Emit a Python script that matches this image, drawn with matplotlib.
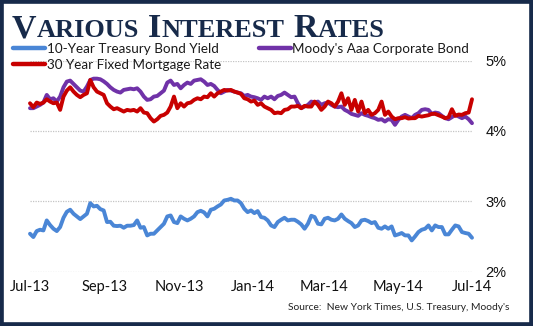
import matplotlib
matplotlib.use("Agg")
import matplotlib.pyplot as plt
import matplotlib.dates as mdates
from matplotlib.patches import Rectangle
from matplotlib.ticker import FuncFormatter
import pandas as pd

# Rate readings at evenly spaced dates, Jul 2013 - Jul 2014 (percent)
treasury_10y = [
    2.537, 2.490, 2.575, 2.594, 2.584, 2.726, 2.660, 2.608, 2.575, 2.632,
    2.764, 2.849, 2.878, 2.821, 2.783, 2.745, 2.783, 2.821, 2.972, 2.925,
    2.934, 2.887, 2.868, 2.703, 2.707, 2.651, 2.646, 2.651, 2.622, 2.651,
    2.651, 2.660, 2.726, 2.622, 2.632, 2.513, 2.537, 2.537, 2.584, 2.632,
    2.679, 2.783, 2.797, 2.703, 2.688, 2.783, 2.750, 2.726, 2.750, 2.783,
    2.844, 2.863, 2.840, 2.783, 2.878, 2.892, 2.925, 2.953, 3.010, 3.019,
    3.034, 3.010, 3.010, 2.972, 2.892, 2.844, 2.868, 2.830, 2.859, 2.774,
    2.764, 2.726, 2.655, 2.632, 2.703, 2.736, 2.764, 2.726, 2.736, 2.736,
    2.707, 2.670, 2.608, 2.679, 2.792, 2.774, 2.679, 2.670, 2.750, 2.764,
    2.736, 2.726, 2.750, 2.811, 2.750, 2.717, 2.688, 2.632, 2.655, 2.726,
    2.736, 2.717, 2.688, 2.703, 2.622, 2.608, 2.641, 2.608, 2.641, 2.513,
    2.528, 2.547, 2.513, 2.513, 2.442, 2.499, 2.561, 2.594, 2.608, 2.655,
    2.584, 2.655, 2.632, 2.632, 2.528, 2.528, 2.594, 2.655, 2.641, 2.561,
    2.547, 2.537, 2.480,
]

moodys_aaa = [
    4.322, 4.322, 4.345, 4.369, 4.402, 4.511, 4.449, 4.463, 4.416, 4.487,
    4.619, 4.700, 4.714, 4.667, 4.619, 4.572, 4.558, 4.629, 4.723, 4.742,
    4.742, 4.733, 4.704, 4.667, 4.619, 4.582, 4.558, 4.544, 4.582, 4.591,
    4.600, 4.591, 4.605, 4.558, 4.487, 4.440, 4.449, 4.487, 4.496, 4.534,
    4.572, 4.686, 4.714, 4.652, 4.667, 4.605, 4.652, 4.686, 4.667, 4.714,
    4.723, 4.733, 4.700, 4.652, 4.667, 4.638, 4.582, 4.534, 4.558, 4.582,
    4.572, 4.558, 4.544, 4.534, 4.496, 4.511, 4.487, 4.478, 4.463, 4.440,
    4.487, 4.463, 4.487, 4.449, 4.496, 4.511, 4.544, 4.511, 4.478, 4.487,
    4.392, 4.322, 4.345, 4.369, 4.416, 4.402, 4.416, 4.369, 4.392, 4.402,
    4.369, 4.345, 4.336, 4.345, 4.298, 4.274, 4.241, 4.227, 4.213, 4.251,
    4.227, 4.213, 4.194, 4.180, 4.156, 4.165, 4.132, 4.165, 4.156, 4.085,
    4.156, 4.203, 4.227, 4.203, 4.180, 4.227, 4.251, 4.298, 4.307, 4.298,
    4.241, 4.260, 4.251, 4.213, 4.180, 4.165, 4.194, 4.227, 4.203, 4.180,
    4.203, 4.165, 4.109,
]

mortgage_30y = [
    4.392, 4.336, 4.402, 4.383, 4.402, 4.449, 4.416, 4.392, 4.402, 4.298,
    4.487, 4.572, 4.619, 4.558, 4.511, 4.478, 4.511, 4.534, 4.723, 4.619,
    4.558, 4.534, 4.511, 4.392, 4.345, 4.307, 4.322, 4.298, 4.274, 4.298,
    4.288, 4.298, 4.274, 4.322, 4.260, 4.251, 4.180, 4.132, 4.165, 4.213,
    4.227, 4.260, 4.345, 4.487, 4.322, 4.392, 4.345, 4.392, 4.402, 4.440,
    4.463, 4.449, 4.487, 4.478, 4.534, 4.487, 4.534, 4.558, 4.582, 4.572,
    4.582, 4.558, 4.544, 4.525, 4.463, 4.449, 4.416, 4.430, 4.369, 4.392,
    4.345, 4.322, 4.298, 4.251, 4.260, 4.251, 4.298, 4.307, 4.345, 4.345,
    4.355, 4.322, 4.355, 4.345, 4.345, 4.416, 4.369, 4.298, 4.345, 4.416,
    4.392, 4.345, 4.416, 4.534, 4.369, 4.463, 4.298, 4.440, 4.274, 4.416,
    4.251, 4.298, 4.227, 4.251, 4.298, 4.416, 4.227, 4.274, 4.203, 4.165,
    4.180, 4.180, 4.194, 4.175, 4.180, 4.180, 4.213, 4.203, 4.213, 4.222,
    4.241, 4.241, 4.222, 4.203, 4.180, 4.194, 4.307, 4.213, 4.232, 4.227,
    4.251, 4.260, 4.449,
]

series_labels = ["10-Year Treasury Bond Yield", "Moody's Aaa Corporate Bond",
                 "30 Year Fixed Mortgage Rate"]
y_ticks = [2, 3, 4, 5]
start_date, end_date = "2013-07-01", "2014-07-01"
title_words = ["Various", "Interest", "Rates"]
source_note = "Source:  New York Times, U.S. Treasury, Moody's"

BLUE, PURPLE, RED = "#4a86d6", "#7032a8", "#c80000"
NAVY = "#172a4a"

W, H = 533, 326
fig = plt.figure(figsize=(W / 100, H / 100), dpi=100)
fig.patch.set_facecolor("white")

ax = fig.add_axes([30 / W, 1 - 271.5 / H, 442 / W, 211 / H])
ax.set_facecolor("none")


def dates_for(values):
    return pd.date_range(start_date, end_date, periods=len(values))


line_style = dict(lw=2.8, solid_joinstyle="round", solid_capstyle="round", clip_on=False)
l_blue, = ax.plot(dates_for(treasury_10y), treasury_10y, color=BLUE, **line_style)
l_purple, = ax.plot(dates_for(moodys_aaa), moodys_aaa, color=PURPLE, **line_style)
l_red, = ax.plot(dates_for(mortgage_30y), mortgage_30y, color=RED, **line_style)

ax.set_xlim(pd.Timestamp(start_date), pd.Timestamp(end_date))
ax.set_ylim(2, 5)
ax.set_yticks(y_ticks)
ax.yaxis.tick_right()
ax.yaxis.set_major_formatter(FuncFormatter(lambda v, _: f"{v:.0f}%"))
ax.set_xticks(pd.date_range(start_date, end_date, freq="2MS"))
ax.xaxis.set_major_formatter(mdates.DateFormatter("%b-%y"))
ax.grid(axis="y", color="#c4c4c4", linestyle=(0, (1, 1)), lw=0.9)
ax.set_axisbelow(True)
for s in ax.spines.values():
    s.set_visible(False)
ax.tick_params(axis="y", length=0, pad=9.5, labelsize=10.5, labelcolor="#111111")
ax.tick_params(axis="x", length=0, pad=6, labelsize=10.5, labelcolor="#111111")
for lab in ax.get_yticklabels():
    lab.set_fontfamily("Liberation Sans")
for lab in ax.get_xticklabels():
    lab.set_fontfamily("Lato")

# Legend: blue and red stacked in the first column, purple in the second
leg = ax.legend([l_blue, l_red, l_purple],
                [series_labels[0], series_labels[2], series_labels[1]],
                ncol=2, loc="upper left", frameon=False,
                bbox_to_anchor=(13 / W, 1 - 43 / H), bbox_transform=fig.transFigure,
                prop={"family": "Lato", "size": 9.7},
                handlelength=2.4, handletextpad=0.1, columnspacing=2.8,
                labelspacing=0.3, borderpad=0, borderaxespad=0)
for h in leg.get_lines():
    h.set_linewidth(3.2)
for t in leg.get_texts():
    t.set_color("#1a1a1a")

# Small-caps title: enlarged initial capital, smaller capitals for the rest
fig.canvas.draw()
renderer = fig.canvas.get_renderer()
x = 12
baseline = 1 - 37 / H
big, small = 24.5, 19
for i, word in enumerate(title_words):
    if i:
        x += 8.5
    for txt, size in ((word[0].upper(), big), (word[1:].upper(), small)):
        t = fig.text(x / W, baseline, txt, fontsize=size, fontweight="bold",
                     family="Liberation Serif", color=NAVY, va="baseline", ha="left")
        x += t.get_window_extent(renderer).width + 0.3

fig.text(510 / W, 1 - 307 / H, source_note, ha="right", va="center",
         fontsize=7.4, family="Lato", color="#222222")

fig.patches.append(Rectangle((0, 0), 1, 1, transform=fig.transFigure, fill=False,
                             edgecolor=NAVY, lw=5.5, zorder=10))

fig.savefig("out.png", dpi=100, facecolor="white")
